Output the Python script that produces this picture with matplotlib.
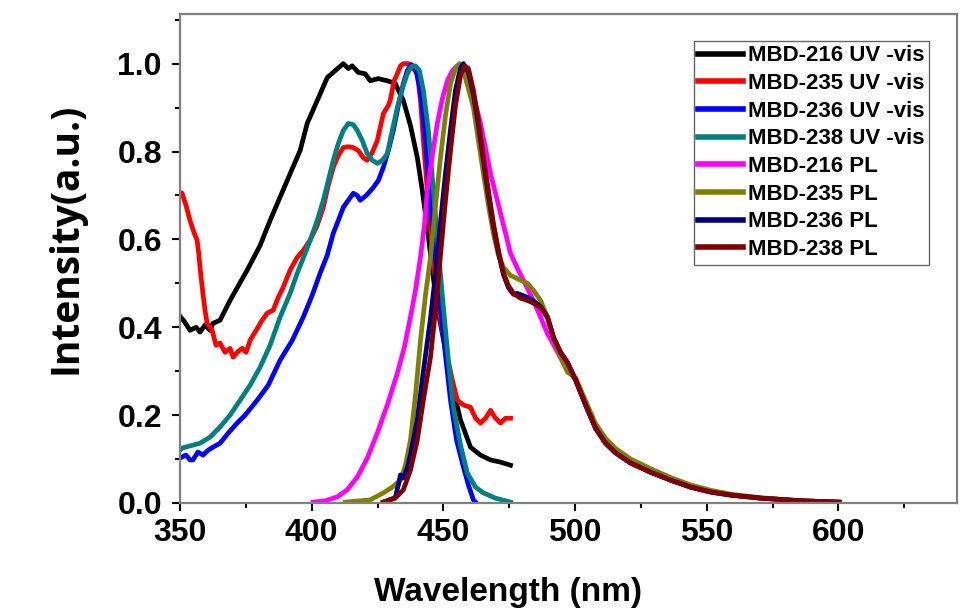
import matplotlib
matplotlib.use('Agg')
import matplotlib.pyplot as plt
from matplotlib.ticker import MultipleLocator

# UV-vis 흡수 스펙트럼
uv216_x = [350, 351.9, 353.8, 356.1, 357.6, 359.5, 361.4, 362.5, 365.2, 369, 375.5, 380.4, 384.2, 390.7,
           395.6, 398.3, 402.1, 405.9, 408.9, 412, 413.9, 415.4, 417.7, 420.3, 422.2, 425.3, 428.7, 431.7,
           434.8, 437.5, 440.1, 442, 443.9, 445.8, 447.7, 450.8, 453.8, 456.5, 460.3, 464.1, 467.9, 471.7, 475.5]
uv216_y = [0.425, 0.411, 0.393, 0.40, 0.389, 0.405, 0.393, 0.409, 0.416, 0.461, 0.53, 0.586, 0.643, 0.734,
           0.802, 0.864, 0.916, 0.968, 0.984, 1.0, 0.989, 0.995, 0.98, 0.977, 0.961, 0.966, 0.961, 0.955,
           0.916, 0.859, 0.786, 0.711, 0.627, 0.53, 0.445, 0.348, 0.257, 0.189, 0.127, 0.109, 0.098, 0.093, 0.086]

uv235_x = [350, 350.8, 352.3, 353.8, 355.3, 356.5, 357.2, 357.6, 358.7, 359.5, 360.3, 362.2, 363.7, 365.2,
           367.1, 369, 370.2, 371.7, 373.6, 375.1, 376.6, 378.9, 381.2, 383.1, 385.4, 387.3, 389.2, 391.8,
           394.5, 396.8, 399.4, 402.1, 404.4, 406.3, 408.2, 410.1, 412, 413.9, 415.8, 417.7, 419.6, 421.1,
           423, 424.9, 427.2, 429.1, 429.8, 431.3, 432.5, 433.7, 434.8, 436.7, 438.6, 440.1, 441.3, 442.4,
           443.9, 445.1, 446.6, 447.7, 449.6, 451.5, 453.4, 455.3, 457.6, 460.3, 462.2, 464.1, 466, 467.9,
           469.8, 471.7, 473.6, 475.5]
uv235_y = [0.707, 0.705, 0.677, 0.643, 0.616, 0.598, 0.564, 0.536, 0.477, 0.439, 0.409, 0.393, 0.359, 0.364,
           0.343, 0.352, 0.332, 0.343, 0.352, 0.343, 0.37, 0.393, 0.416, 0.432, 0.439, 0.468, 0.491, 0.53,
           0.559, 0.575, 0.598, 0.632, 0.673, 0.723, 0.764, 0.791, 0.809, 0.811, 0.809, 0.802, 0.786, 0.78,
           0.798, 0.825, 0.886, 0.905, 0.916, 0.961, 0.977, 0.995, 1.0, 1.0, 0.989, 0.977, 0.916, 0.825,
           0.711, 0.627, 0.53, 0.461, 0.393, 0.332, 0.28, 0.234, 0.223, 0.218, 0.193, 0.182, 0.193, 0.211,
           0.193, 0.182, 0.193, 0.193]

uv236_x = [350, 350.8, 352.3, 353.8, 354.9, 356.8, 358.7, 360.6, 362.5, 365.2, 368.3, 371.7, 374.7, 379.3,
           383.5, 388, 392.6, 396.8, 400.2, 403.2, 405.9, 408.2, 410.1, 412, 413.9, 415.8, 417.3, 418.4,
           420.7, 423.4, 425.3, 427.2, 429.1, 431, 432.9, 434.8, 436.3, 437.8, 439.4, 440.9, 442, 443.5,
           445.1, 447, 448.9, 450.8, 452.7, 455, 457.6, 459.5, 461.4, 462.5]
uv236_y = [0.102, 0.105, 0.109, 0.098, 0.098, 0.116, 0.109, 0.12, 0.127, 0.136, 0.159, 0.182, 0.2, 0.234,
           0.268, 0.325, 0.37, 0.423, 0.473, 0.523, 0.564, 0.614, 0.643, 0.673, 0.689, 0.705, 0.7, 0.689,
           0.7, 0.718, 0.734, 0.764, 0.802, 0.848, 0.905, 0.955, 0.984, 0.998, 0.989, 0.95, 0.9, 0.802,
           0.673, 0.552, 0.445, 0.336, 0.234, 0.143, 0.082, 0.041, 0.007, 0.0]

uv238_x = [350, 350.8, 353.8, 357.6, 361.4, 365.2, 369, 372.8, 376.6, 380.4, 384.2, 388, 391.8, 394.5,
           397.5, 399.4, 402.1, 404.4, 406.3, 408.2, 410.1, 412, 413.9, 415.8, 417.3, 419.2, 421.1, 423,
           424.9, 426.8, 428.7, 430.6, 432.5, 434.4, 436.3, 437.8, 439.4, 440.9, 442.4, 444.3, 446.2, 448.1,
           450, 451.9, 453.8, 456.5, 459.1, 462.2, 465.2, 469.8, 475.5]
uv238_y = [0.12, 0.125, 0.13, 0.136, 0.15, 0.173, 0.2, 0.234, 0.268, 0.309, 0.359, 0.423, 0.477, 0.523,
           0.568, 0.598, 0.643, 0.689, 0.734, 0.78, 0.818, 0.848, 0.864, 0.861, 0.848, 0.825, 0.795, 0.78,
           0.773, 0.78, 0.795, 0.848, 0.9, 0.943, 0.977, 0.993, 0.995, 0.984, 0.939, 0.848, 0.711, 0.575,
           0.445, 0.325, 0.218, 0.132, 0.068, 0.036, 0.023, 0.011, 0.002]

# PL 발광 스펙트럼
pl216_x = [400.6, 405.1, 409.7, 413.5, 417.3, 421.1, 424.9, 428.7, 432.5, 435.2, 437.5, 439.4, 441.3,
           442.8, 443.9, 445.8, 447.7, 449.6, 451.5, 453.4, 455.3, 457.2, 459.1, 461.4, 464.1, 466, 467.9,
           469.8, 471.7, 473.6, 475.5, 478.1, 480.4, 482.3, 484.2, 486.9, 489.5, 492.6, 495.6,
           500.2, 504, 507.8, 511.6, 515.4, 521.1, 528.7, 536.3, 543.9, 551.5, 559.1, 570.5, 585.7, 600.2]
pl216_y = [0.002, 0.005, 0.014, 0.03, 0.059, 0.102, 0.159, 0.223, 0.295, 0.355, 0.423, 0.484, 0.559,
           0.632, 0.711, 0.791, 0.864, 0.92, 0.961, 0.984, 0.995, 0.993, 0.977, 0.927, 0.864, 0.807, 0.75,
           0.705, 0.659, 0.614, 0.568, 0.534, 0.507, 0.484, 0.461, 0.423, 0.386, 0.352, 0.318,
           0.28, 0.223, 0.17, 0.136, 0.114, 0.091, 0.07, 0.052, 0.036, 0.025, 0.018, 0.011, 0.005, 0.002]

pl235_x = [412.7, 422.2, 427.2, 430.6, 433.7, 435.6, 437.5, 439.4, 441.3, 443.2, 445.1, 447, 448.9, 450.8,
           452.7, 454.6, 456.1, 457.6, 459.5, 461.4, 463.3, 465.2, 467.1, 469, 470.9, 472.8, 475.5, 479.3,
           481.9, 484.2, 486.9, 489.5, 491.8, 494.5, 497.1,
           500.2, 504, 507.8, 511.6, 515.4, 521.1, 528.7, 536.3, 543.9, 551.5, 559.1, 570.5, 585.7, 600.2]
pl235_y = [0.002, 0.007, 0.023, 0.036, 0.052, 0.086, 0.143, 0.245, 0.37, 0.473, 0.559, 0.677, 0.786, 0.882,
           0.955, 0.989, 1.0, 0.984, 0.943, 0.9, 0.825, 0.75, 0.677, 0.614, 0.564, 0.536, 0.518, 0.507,
           0.5, 0.484, 0.461, 0.423, 0.377, 0.332, 0.298,
           0.285, 0.232, 0.18, 0.147, 0.124, 0.1, 0.078, 0.058, 0.041, 0.029, 0.02, 0.012, 0.005, 0.002]

pl236_x = [427.2, 431.7, 432.9, 433.7, 434.8, 436.3, 437.5, 440.1, 442.4, 445.1, 447, 448.9, 450.8, 452.7,
           454.6, 456.5, 457.6, 459.5, 461.4, 463.3, 465.2, 467.1, 469, 470.9, 472.8, 474.7, 476.6, 478.1,
           481.9, 484.2, 486.9, 489.5, 491.8, 494.5, 497.1,
           500.2, 504, 507.8, 511.6, 515.4, 521.1, 528.7, 536.3, 543.9, 551.5, 559.1, 570.5, 585.7, 600.2]
pl236_y = [0.002, 0.012, 0.041, 0.064, 0.057, 0.08, 0.11, 0.19, 0.3, 0.42, 0.52, 0.64, 0.75, 0.85,
           0.94, 0.99, 1.0, 0.98, 0.93, 0.86, 0.78, 0.7, 0.63, 0.57, 0.52, 0.49, 0.475, 0.477,
           0.468, 0.46, 0.447, 0.423, 0.377, 0.343, 0.32,
           0.28, 0.223, 0.17, 0.136, 0.114, 0.091, 0.07, 0.052, 0.036, 0.025, 0.018, 0.011, 0.005, 0.002]

pl238_x = [427.2, 431.7, 434.8, 437.5, 440.1, 442.4, 445.1, 447, 448.9, 450.8, 452.7, 454.6, 456.5, 458,
           459.5, 461.4, 463.3, 465.2, 467.1, 469, 470.9, 472.8, 474.7, 476.6, 479.3, 481.9, 484.2, 486.9,
           489.5, 491.8, 494.5, 497.1,
           500.2, 504, 507.8, 511.6, 515.4, 521.1, 528.7, 536.3, 543.9, 551.5, 559.1, 570.5, 585.7, 600.2]
pl238_y = [0.002, 0.011, 0.03, 0.075, 0.143, 0.234, 0.332, 0.439, 0.564, 0.689, 0.802, 0.905, 0.973, 0.995,
           0.989, 0.939, 0.87, 0.786, 0.711, 0.636, 0.575, 0.523, 0.495, 0.477, 0.466, 0.461, 0.455, 0.445,
           0.423, 0.377, 0.343, 0.32,
           0.28, 0.223, 0.17, 0.136, 0.114, 0.091, 0.07, 0.052, 0.036, 0.025, 0.018, 0.011, 0.005, 0.002]

series = [
    (uv216_x, uv216_y, 'MBD-216 UV -vis', 'black'),
    (uv235_x, uv235_y, 'MBD-235 UV -vis', 'red'),
    (uv236_x, uv236_y, 'MBD-236 UV -vis', 'blue'),
    (uv238_x, uv238_y, 'MBD-238 UV -vis', '#008080'),
    (pl216_x, pl216_y, 'MBD-216 PL', '#ff00ff'),
    (pl235_x, pl235_y, 'MBD-235 PL', '#808000'),
    (pl236_x, pl236_y, 'MBD-236 PL', '#000080'),
    (pl238_x, pl238_y, 'MBD-238 PL', '#800000'),
]

plt.rcParams['font.family'] = ['Liberation Sans', 'DejaVu Sans']
plt.rcParams['font.weight'] = 'bold'

fig = plt.figure(figsize=(9.67, 6.14), dpi=100)
ax = fig.add_axes([180 / 967, 1 - 503 / 614, 777 / 967, 489 / 614])

for x, y, name, c in series:
    ax.plot(x, y, color=c, lw=3.4, label=name)

ax.set_xlim(350, 645)
ax.set_ylim(0, 1.113)
ax.xaxis.set_major_locator(MultipleLocator(50))
ax.xaxis.set_minor_locator(MultipleLocator(25))
ax.yaxis.set_major_locator(MultipleLocator(0.2))
ax.yaxis.set_minor_locator(MultipleLocator(0.1))
ax.set_xticks([350, 400, 450, 500, 550, 600])
ax.set_yticklabels([f'{v:.1f}' for v in ax.get_yticks()])

for s in ax.spines.values():
    s.set_color('#808080')
    s.set_linewidth(1.6)
ax.tick_params(which='major', direction='out', length=6, width=1.5, labelsize=23, pad=5)
ax.tick_params(which='minor', direction='out', length=3.5, width=1.5)
ax.tick_params(axis='y', which='major', pad=7)

fig.text(508 / 967, 1 - 592 / 614, 'Wavelength (nm)', ha='center', va='center',
         fontsize=24, fontweight='bold')
fig.text(66 / 967, 1 - 238 / 614, 'Intensity(a.u.)', ha='center', va='center', rotation=90,
         fontsize=28, fontweight='bold', family=['Open Sans', 'DejaVu Sans'])

leg = ax.legend(loc='upper left', bbox_to_anchor=(694 / 967, 1 - 41 / 614), bbox_transform=fig.transFigure,
                fontsize=16, frameon=True, fancybox=False, borderpad=0.2, labelspacing=0.3,
                handlelength=2.0, handletextpad=0.25, borderaxespad=0)
leg.get_frame().set_edgecolor('#404040')
leg.get_frame().set_linewidth(1.0)
for t in leg.get_texts():
    t.set_fontweight('bold')
for h in leg.get_lines():
    h.set_linewidth(4)

fig.savefig('out.png', dpi=100)
